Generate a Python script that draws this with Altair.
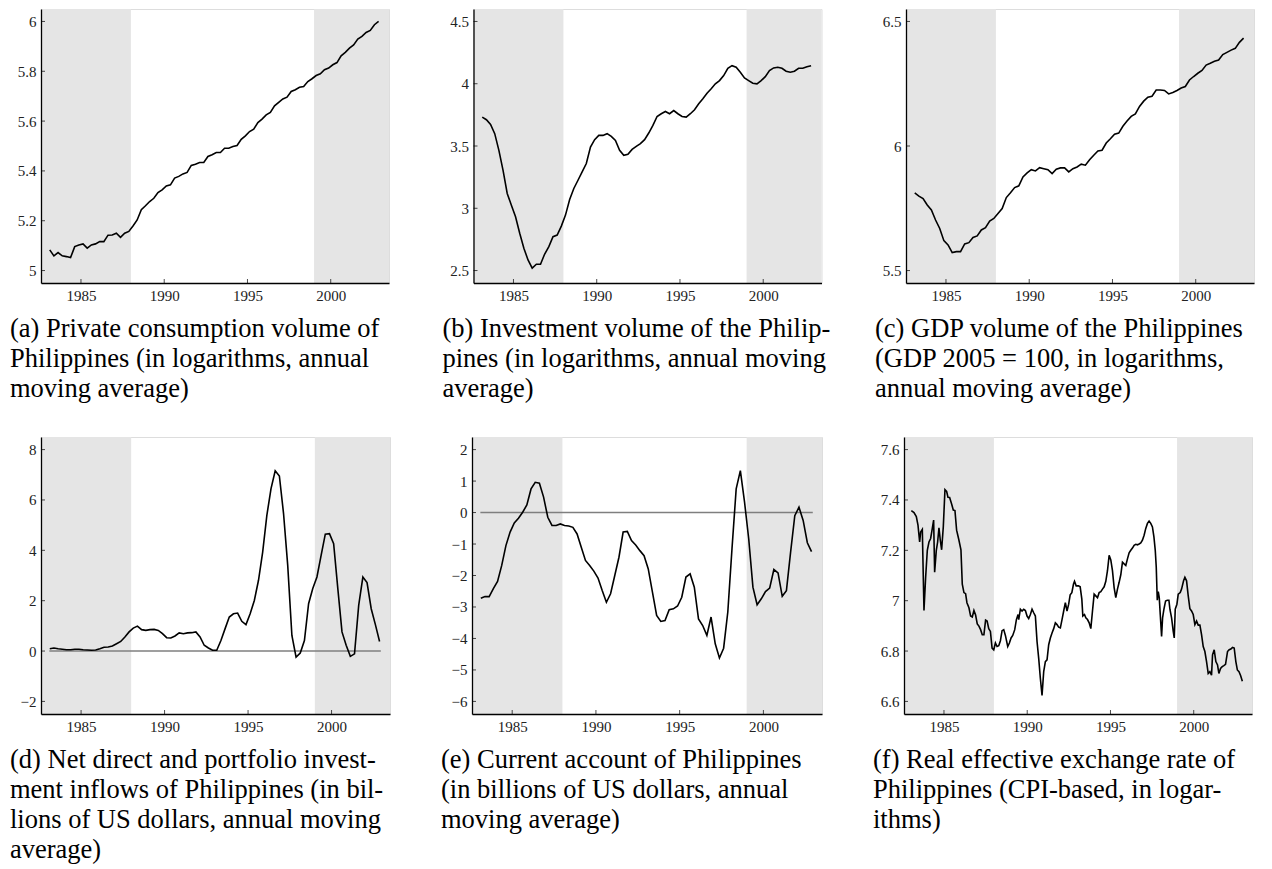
import altair as alt
import pandas as pd

# ---------------- data ----------------
QUARTERS = [1983.125 + 0.25 * i for i in range(80)]

consumption = [5.083, 5.059, 5.072, 5.059, 5.056, 5.052, 5.096, 5.103, 5.107, 5.090,
               5.103, 5.107, 5.116, 5.116, 5.142, 5.143, 5.150, 5.133, 5.150, 5.157,
               5.179, 5.203, 5.244, 5.260, 5.277, 5.290, 5.313, 5.324, 5.340, 5.344,
               5.371, 5.378, 5.388, 5.394, 5.422, 5.427, 5.434, 5.434, 5.458, 5.465,
               5.474, 5.474, 5.491, 5.491, 5.498, 5.502, 5.527, 5.541, 5.558, 5.568,
               5.594, 5.608, 5.625, 5.635, 5.661, 5.675, 5.689, 5.696, 5.719, 5.726,
               5.736, 5.739, 5.759, 5.770, 5.783, 5.790, 5.806, 5.813, 5.826, 5.835,
               5.862, 5.876, 5.893, 5.906, 5.929, 5.940, 5.956, 5.964, 5.987, 6.000]

investment = [3.732, 3.711, 3.673, 3.599, 3.465, 3.305, 3.119, 3.025, 2.932, 2.799,
              2.679, 2.585, 2.519, 2.551, 2.551, 2.633, 2.692, 2.772, 2.785, 2.857,
              2.945, 3.071, 3.159, 3.225, 3.292, 3.359, 3.492, 3.551, 3.585, 3.585,
              3.599, 3.577, 3.545, 3.465, 3.425, 3.433, 3.473, 3.497, 3.519, 3.551,
              3.604, 3.665, 3.737, 3.759, 3.777, 3.759, 3.785, 3.759, 3.737, 3.732,
              3.759, 3.791, 3.839, 3.879, 3.924, 3.959, 3.999, 4.025, 4.065, 4.124,
              4.145, 4.132, 4.092, 4.047, 4.025, 4.004, 3.999, 4.025, 4.057, 4.105,
              4.127, 4.132, 4.124, 4.100, 4.092, 4.100, 4.124, 4.124, 4.137, 4.145]

gdp = [5.812, 5.799, 5.789, 5.763, 5.743, 5.703, 5.669, 5.620, 5.603, 5.572,
       5.576, 5.576, 5.607, 5.612, 5.633, 5.639, 5.663, 5.672, 5.699, 5.709,
       5.729, 5.749, 5.793, 5.812, 5.833, 5.840, 5.876, 5.892, 5.905, 5.900,
       5.913, 5.909, 5.905, 5.889, 5.907, 5.912, 5.912, 5.896, 5.909, 5.916,
       5.927, 5.923, 5.945, 5.963, 5.980, 5.983, 6.012, 6.029, 6.047, 6.052,
       6.079, 6.100, 6.119, 6.129, 6.159, 6.180, 6.196, 6.200, 6.225, 6.225,
       6.223, 6.209, 6.215, 6.223, 6.233, 6.239, 6.265, 6.279, 6.292, 6.303,
       6.325, 6.332, 6.340, 6.345, 6.367, 6.376, 6.385, 6.392, 6.416, 6.433]

inflows = [0.09, 0.12, 0.09, 0.07, 0.05, 0.05, 0.07, 0.07, 0.05, 0.04,
           0.03, 0.04, 0.09, 0.15, 0.16, 0.20, 0.29, 0.38, 0.56, 0.76,
           0.91, 0.99, 0.85, 0.82, 0.85, 0.86, 0.82, 0.69, 0.53, 0.52,
           0.60, 0.72, 0.69, 0.72, 0.73, 0.76, 0.56, 0.23, 0.12, 0.03,
           0.03, 0.42, 0.89, 1.35, 1.48, 1.51, 1.18, 1.05, 1.48, 2.01,
           2.81, 3.93, 5.39, 6.45, 7.16, 6.95, 5.46, 3.40, 0.62, -0.24,
           -0.08, 0.42, 1.88, 2.48, 2.94, 3.80, 4.64, 4.66, 4.26, 2.48,
           0.76, 0.23, -0.21, -0.11, 1.81, 2.94, 2.72, 1.68, 1.05, 0.38]

current_account = [-2.72, -2.67, -2.67, -2.42, -2.19, -1.68, -1.05, -0.62, -0.33, -0.18,
                   0.01, 0.24, 0.75, 0.96, 0.93, 0.49, -0.15, -0.41, -0.41, -0.36,
                   -0.41, -0.43, -0.47, -0.68, -1.10, -1.52, -1.68, -1.86, -2.08, -2.48,
                   -2.85, -2.58, -2.00, -1.42, -0.62, -0.60, -0.89, -1.03, -1.21, -1.37,
                   -1.79, -2.53, -3.27, -3.46, -3.43, -3.09, -3.06, -2.97, -2.69, -2.05,
                   -1.95, -2.37, -3.38, -3.59, -3.90, -3.32, -4.17, -4.62, -4.31, -3.16,
                   -1.15, 0.75, 1.33, 0.33, -0.84, -2.37, -2.93, -2.74, -2.51, -2.40,
                   -1.81, -1.92, -2.66, -2.48, -1.26, -0.10, 0.17, -0.25, -0.96, -1.24]

reer_time = [1983.04, 1983.20, 1983.34, 1983.44, 1983.54, 1983.60, 1983.70, 1983.80, 1983.90, 1984.00,
             1984.10, 1984.20, 1984.30, 1984.38, 1984.44, 1984.54, 1984.62, 1984.70, 1984.78, 1984.86,
             1984.96, 1985.06, 1985.16, 1985.24, 1985.34, 1985.46, 1985.56, 1985.66, 1985.76, 1985.90,
             1986.02, 1986.10, 1986.20, 1986.30, 1986.38, 1986.50, 1986.60, 1986.70, 1986.80, 1986.90,
             1987.00, 1987.10, 1987.20, 1987.30, 1987.40, 1987.50, 1987.59, 1987.69, 1987.79, 1987.89,
             1987.99, 1988.09, 1988.19, 1988.29, 1988.39, 1988.49, 1988.59, 1988.69, 1988.83, 1988.93,
             1989.03, 1989.13, 1989.25, 1989.35, 1989.45, 1989.49, 1989.59, 1989.69, 1989.79, 1989.89,
             1989.99, 1990.09, 1990.19, 1990.29, 1990.39, 1990.49, 1990.59, 1990.69, 1990.79, 1990.89,
             1990.99, 1991.09, 1991.19, 1991.29, 1991.39, 1991.49, 1991.59, 1991.69, 1991.79, 1991.89,
             1991.99, 1992.09, 1992.19, 1992.29, 1992.39, 1992.49, 1992.58, 1992.68, 1992.78, 1992.84,
             1992.94, 1993.08, 1993.18, 1993.28, 1993.34, 1993.44, 1993.52, 1993.62, 1993.72, 1993.82,
             1993.92, 1994.02, 1994.12, 1994.22, 1994.32, 1994.42, 1994.52, 1994.62, 1994.72, 1994.82,
             1994.92, 1995.02, 1995.12, 1995.22, 1995.32, 1995.42, 1995.52, 1995.62, 1995.72, 1995.82,
             1995.92, 1996.02, 1996.12, 1996.22, 1996.32, 1996.42, 1996.52, 1996.62, 1996.72, 1996.82,
             1996.92, 1997.02, 1997.12, 1997.22, 1997.32, 1997.42, 1997.52, 1997.61, 1997.69, 1997.75,
             1997.81, 1997.87, 1997.93, 1997.99, 1998.07, 1998.13, 1998.21, 1998.31, 1998.41, 1998.51,
             1998.57, 1998.67, 1998.77, 1998.83, 1998.89, 1998.99, 1999.07, 1999.19, 1999.27, 1999.39,
             1999.47, 1999.57, 1999.67, 1999.77, 1999.87, 1999.97, 2000.07, 2000.17, 2000.27, 2000.37,
             2000.47, 2000.57, 2000.67, 2000.77, 2000.87, 2000.97, 2001.07, 2001.13, 2001.23, 2001.33,
             2001.43, 2001.51, 2001.61, 2001.71, 2001.81, 2001.91, 2002.03, 2002.13, 2002.23, 2002.33,
             2002.43, 2002.53, 2002.62, 2002.72, 2002.82, 2002.92]
reer = [7.358, 7.350, 7.334, 7.300, 7.233, 7.273, 7.283, 6.961, 7.093, 7.200,
        7.233, 7.247, 7.287, 7.320, 7.113, 7.200, 7.233, 7.289, 7.240, 7.202,
        7.293, 7.441, 7.434, 7.411, 7.410, 7.384, 7.360, 7.358, 7.280, 7.240,
        7.202, 7.066, 7.032, 7.028, 6.992, 6.972, 6.939, 6.935, 6.961, 6.943,
        6.908, 6.899, 6.885, 6.865, 6.865, 6.923, 6.919, 6.889, 6.878, 6.812,
        6.805, 6.832, 6.818, 6.821, 6.841, 6.881, 6.885, 6.862, 6.818, 6.832,
        6.852, 6.862, 6.885, 6.925, 6.945, 6.925, 6.966, 6.959, 6.966, 6.961,
        6.939, 6.929, 6.945, 6.966, 6.952, 6.939, 6.838, 6.771, 6.691, 6.624,
        6.718, 6.758, 6.765, 6.825, 6.852, 6.872, 6.889, 6.912, 6.905, 6.895,
        6.892, 6.925, 6.959, 6.992, 6.959, 6.986, 7.023, 7.032, 7.066, 7.077,
        7.059, 7.059, 7.055, 7.006, 6.939, 6.945, 6.932, 6.925, 6.912, 6.889,
        6.959, 7.026, 7.019, 7.012, 7.032, 7.036, 7.046, 7.055, 7.077, 7.119,
        7.180, 7.162, 7.119, 7.052, 7.012, 7.046, 7.073, 7.103, 7.153, 7.146,
        7.140, 7.166, 7.190, 7.200, 7.209, 7.220, 7.224, 7.222, 7.225, 7.229,
        7.240, 7.260, 7.287, 7.307, 7.316, 7.307, 7.293, 7.253, 7.200, 7.133,
        7.002, 7.036, 7.012, 6.945, 6.858, 6.932, 6.966, 6.999, 7.002, 7.002,
        6.966, 6.932, 6.878, 6.852, 6.966, 6.986, 7.026, 7.032, 7.046, 7.079,
        7.093, 7.079, 7.019, 6.968, 6.959, 6.945, 6.905, 6.919, 6.903, 6.903,
        6.865, 6.818, 6.798, 6.758, 6.711, 6.718, 6.704, 6.785, 6.805, 6.758,
        6.745, 6.711, 6.731, 6.738, 6.742, 6.747, 6.798, 6.805, 6.808, 6.814,
        6.812, 6.758, 6.725, 6.718, 6.702, 6.680]

X_DOMAIN = [1982.6, 2003.5]
X_TICKS = [1985, 1990, 1995, 2000]
BAND_START = [1982.6, 1999.0]
BAND_END = [1988.0, 2003.5]
ZERO_SPAN = [1983.1, 2002.95]

captions = {
    "a": ["(a) Private consumption volume of", "Philippines (in logarithms, annual", "moving average)"],
    "b": ["(b) Investment volume of the Philip-", "pines (in logarithms, annual moving", "average)"],
    "c": ["(c) GDP volume of the Philippines", "(GDP 2005 = 100, in logarithms,", "annual moving average)"],
    "d": ["(d) Net direct and portfolio invest-", "ment inflows of Philippines (in bil-",
          "lions of US dollars, annual moving", "average)"],
    "e": ["(e) Current account of Philippines", "(in billions of US dollars, annual", "moving average)"],
    "f": ["(f) Real effective exchange rate of", "Philippines (CPI-based, in logar-", "ithms)"],
}

FONT = "Liberation Serif"


def panel(t, v, y_domain, y_ticks, caption, width, height, zero=False):
    line_df = pd.DataFrame({"t": t, "v": v})
    band_df = pd.DataFrame({"x0": BAND_START, "x1": BAND_END})
    xs = alt.Scale(domain=X_DOMAIN, nice=False, zero=False)
    ys = alt.Scale(domain=y_domain, nice=False, zero=False)

    x_axis = alt.Axis(values=X_TICKS, format="d", title=None, grid=False, ticks=False,
                      domainColor="black", domainWidth=1.3, labelFont=FONT, labelFontSize=15,
                      labelColor="#222", labelPadding=5, zindex=1)
    y_axis = alt.Axis(values=y_ticks, format="~g", title=None, grid=False, ticks=False,
                      domainColor="black", domainWidth=1.3, labelFont=FONT, labelFontSize=15,
                      labelColor="#222", labelPadding=5, zindex=1)

    bands = alt.Chart(band_df).mark_rect(color="#e5e5e5").encode(
        x=alt.X("x0:Q", scale=xs, axis=x_axis),
        x2="x1:Q",
    )
    line = alt.Chart(line_df).mark_line(color="black", strokeWidth=1.6, clip=True).encode(
        x=alt.X("t:Q", scale=xs, axis=x_axis),
        y=alt.Y("v:Q", scale=ys, axis=y_axis),
    )
    xt = alt.Chart(pd.DataFrame({"t": X_TICKS})).mark_tick(
        color="black", size=4, thickness=1, orient="vertical").encode(
        x=alt.X("t:Q", scale=xs, axis=x_axis), y=alt.value(height - 2))
    yt = alt.Chart(pd.DataFrame({"v": y_ticks})).mark_tick(
        color="black", size=4, thickness=1, orient="horizontal").encode(
        y=alt.Y("v:Q", scale=ys, axis=y_axis), x=alt.value(2))
    layers = [bands]
    if zero:
        zdf = pd.DataFrame({"x0": [ZERO_SPAN[0]], "x1": [ZERO_SPAN[1]], "y": [0]})
        layers.append(alt.Chart(zdf).mark_rule(color="#7f7f7f", strokeWidth=1.5).encode(
            x=alt.X("x0:Q", scale=xs, axis=x_axis), x2="x1:Q",
            y=alt.Y("y:Q", scale=ys, axis=y_axis)))
    layers += [line, xt, yt]
    return alt.layer(*layers).properties(
        width=width, height=height,
        title=alt.TitleParams(text=caption, orient="bottom", anchor="start", frame="group",
                              align="left", baseline="top", font=FONT, fontSize=26.5,
                              fontWeight="normal", color="black", lineHeight=30,
                              offset=13, dx=-31),
    )


pa = panel(QUARTERS, consumption, [4.95, 6.05], [5, 5.2, 5.4, 5.6, 5.8, 6], captions["a"], 348, 274)
pb = panel(QUARTERS, investment, [2.4, 4.6], [2.5, 3, 3.5, 4, 4.5], captions["b"], 348, 274)
pc = panel(QUARTERS, gdp, [5.45, 6.55], [5.5, 6, 6.5], captions["c"], 348, 274)
pd_ = panel(QUARTERS, inflows, [-2.5, 8.5], [-2, 0, 2, 4, 6, 8], captions["d"], 349, 277, zero=True)
pe = panel(QUARTERS, current_account, [-6.4, 2.4], [-6, -5, -4, -3, -2, -1, 0, 1, 2], captions["e"], 350, 277, zero=True)
pf = panel(reer_time, reer, [6.55, 7.65], [6.6, 6.8, 7.0, 7.2, 7.4, 7.6], captions["f"], 348, 277)

row1 = alt.hconcat(pa, pb, pc, spacing=84.5, bounds="flush")
row2 = alt.hconcat(pd_, pe, pf, spacing=82, bounds="flush")

chart = alt.vconcat(row1, row2, spacing=428, bounds="flush").properties(
    padding={"left": 1, "top": 0, "right": 2, "bottom": 2}
).configure_view(stroke=None).configure(background="white")

chart.save("out.html", embed_options={"renderer": "svg", "actions": False})
